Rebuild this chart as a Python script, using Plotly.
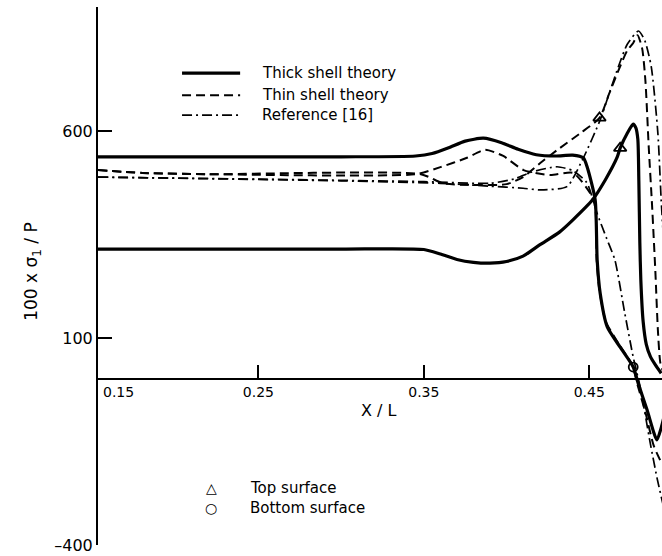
import plotly.graph_objects as go

# Thick shell theory: top and bottom surface stress along the shell
thick_top_x = [0.153, 0.30, 0.350, 0.360, 0.370, 0.380, 0.390, 0.400, 0.410, 0.420, 0.432, 0.440,
               0.452, 0.4597, 0.4669, 0.4687, 0.4730, 0.4766, 0.4782, 0.4794, 0.4800, 0.4806,
               0.4812, 0.4826, 0.4845, 0.4870, 0.4900, 0.4935]
thick_top_y = [315, 315, 314, 303, 290, 283, 281, 285, 298, 325, 356, 385,
               434, 482, 537, 559, 595, 617, 608, 580, 480, 330,
               240, 140, 85, 55, 35, 15]

thick_bot_x = [0.153, 0.30, 0.345, 0.355, 0.365, 0.375, 0.386, 0.397, 0.407, 0.418, 0.430, 0.440,
               0.4465, 0.4488, 0.4536, 0.4548, 0.4566, 0.4609, 0.4687, 0.4766, 0.4796, 0.4850,
               0.4909, 0.4935, 0.4970]
thick_bot_y = [538, 538, 540, 546, 560, 576, 583, 572, 556, 543, 540, 542,
               535, 513, 434, 289, 209, 127, 78, 30, -9, -74,
               -146, -117, -60]

# Thin shell theory
thin_top_x = [0.153, 0.18, 0.22, 0.3482, 0.3617, 0.380, 0.400, 0.410, 0.4204, 0.4305, 0.4446,
              0.4562, 0.462, 0.468, 0.473, 0.4766, 0.4792, 0.4820, 0.4840, 0.4860, 0.4880,
              0.4900, 0.4915, 0.4930, 0.4950]
thin_top_y = [506, 499, 496, 496, 474, 470, 472, 489, 523, 554, 595,
              632, 690, 750, 795, 813, 832, 800, 720, 560, 420,
              260, 120, 40, 15]

thin_bot_x = [0.153, 0.18, 0.22, 0.345, 0.360, 0.3757, 0.387, 0.398, 0.4103, 0.4264, 0.4403,
              0.4506, 0.4536, 0.4545, 0.4560, 0.4600, 0.4680, 0.4760, 0.4790, 0.4840,
              0.4890, 0.4935]
thin_bot_y = [506, 499, 496, 496, 513, 535, 555, 540, 506, 494, 499,
              450, 417, 289, 220, 140, 85, 35, -10, -80,
              -160, -200]

# Reference [16]
ref_a_x = [0.153, 0.30, 0.36, 0.39, 0.41, 0.4204, 0.4365, 0.4464, 0.4566, 0.462, 0.468, 0.473,
           0.4798, 0.4835, 0.4875, 0.4915, 0.4935, 0.4955]
ref_a_y = [489, 480, 474, 467, 462, 458, 466, 535, 627, 690, 760, 810,
           842, 820, 756, 595, 434, 300]

ref_b_x = [0.153, 0.25, 0.35, 0.39, 0.405, 0.4143, 0.4305, 0.4403, 0.4486, 0.4547, 0.4606,
           0.4655, 0.4715, 0.4766, 0.4808, 0.4869, 0.4909, 0.4945]
ref_b_y = [489, 484, 478, 474, 485, 500, 514, 504, 475, 402, 340,
           289, 160, 54, -18, -154, -236, -300]

# Surface markers placed on the curves
top_surface_x = [0.4562, 0.4687]
top_surface_y = [632, 559]
bottom_surface_x = [0.4766]
bottom_surface_y = [30]

x_ticks = [0.25, 0.35, 0.45]
y_ticks = [600, 100, -400]
y_tick_text = ["600", "100", "\u2013400"]

FONT = "DejaVu Sans"
SOLID = dict(color="black", width=3.2)
DASHED = dict(color="black", width=2, dash="9px,5px")
DASHDOT = dict(color="black", width=1.7, dash="10px,4px,2px,4px")

fig = go.Figure()
for xs, ys, ln in [
    (thick_top_x, thick_top_y, SOLID),
    (thick_bot_x, thick_bot_y, SOLID),
    (thin_top_x, thin_top_y, DASHED),
    (thin_bot_x, thin_bot_y, DASHED),
    (ref_a_x, ref_a_y, DASHDOT),
    (ref_b_x, ref_b_y, DASHDOT),
]:
    fig.add_trace(go.Scatter(x=xs, y=ys, mode="lines",
                             line=dict(shape="spline", smoothing=0.6, **ln),
                             showlegend=False, hoverinfo="skip"))

fig.add_trace(go.Scatter(x=top_surface_x, y=top_surface_y, mode="markers",
                         marker=dict(symbol="triangle-up-open", size=11, color="black",
                                     line=dict(width=1.8)),
                         showlegend=False))
fig.add_trace(go.Scatter(x=bottom_surface_x, y=bottom_surface_y, mode="markers",
                         marker=dict(symbol="circle-open", size=9, color="black",
                                     line=dict(width=1.8)),
                         showlegend=False))

# Line key in the upper left
key_rows = [("Thick shell theory", SOLID, 0.877),
            ("Thin shell theory", DASHED, 0.836),
            ("Reference [16]", DASHDOT, 0.799)]
shapes = []
annotations = []
for label, ln, yp in key_rows:
    shapes.append(dict(type="line", xref="paper", yref="paper", x0=0.149, x1=0.252,
                       y0=yp, y1=yp, line=ln))
    annotations.append(dict(text=label, xref="paper", yref="paper", x=0.287, y=yp,
                            xanchor="left", yanchor="middle", showarrow=False,
                            font=dict(family=FONT, size=15, color="black")))

# Marker key near the bottom
for sym, label, yp in [("\u25b3", "Top surface", 0.106), ("\u25cb", "Bottom surface", 0.069)]:
    annotations.append(dict(text=sym, xref="paper", yref="paper", x=0.201, y=yp,
                            xanchor="center", yanchor="middle", showarrow=False,
                            font=dict(family=FONT, size=14, color="black")))
    annotations.append(dict(text=label, xref="paper", yref="paper", x=0.266, y=yp,
                            xanchor="left", yanchor="middle", showarrow=False,
                            font=dict(family=FONT, size=15, color="black")))

annotations += [
    dict(text="0.15", xref="paper", yref="y", x=0.006, y=0, xanchor="left", yanchor="top",
         yshift=-3, showarrow=False, font=dict(family=FONT, size=14, color="black")),
    dict(text="X / L", xref="paper", yref="paper", x=0.498, y=0.2286, showarrow=False,
         font=dict(family=FONT, size=16, color="black")),
    dict(text="100 x \u03c3<sub>1</sub> / P", xref="paper", yref="paper", x=-0.14, y=0.507,
         textangle=-90, showarrow=False, font=dict(family=FONT, size=17, color="black")),
]

fig.update_layout(
    width=662, height=556,
    margin=dict(l=98, r=0, t=7, b=11),
    paper_bgcolor="white", plot_bgcolor="white",
    shapes=shapes, annotations=annotations,
    xaxis=dict(range=[0.153, 0.494], anchor="free", position=400 / 1300,
               showline=True, linecolor="black", linewidth=2,
               ticks="inside", ticklen=13, tickwidth=1.5, tickcolor="black",
               tickvals=x_ticks, ticktext=[f"{v:.2f}" for v in x_ticks],
               tickfont=dict(family=FONT, size=14, color="black"),
               showgrid=False, zeroline=False),
    yaxis=dict(range=[-400, 900], showline=True, linecolor="black", linewidth=2,
               ticks="inside", ticklen=14, tickwidth=1.5, tickcolor="black",
               tickvals=y_ticks, ticktext=y_tick_text,
               tickfont=dict(family=FONT, size=16, color="black"),
               showgrid=False, zeroline=False),
)

fig.write_html("out.html")
